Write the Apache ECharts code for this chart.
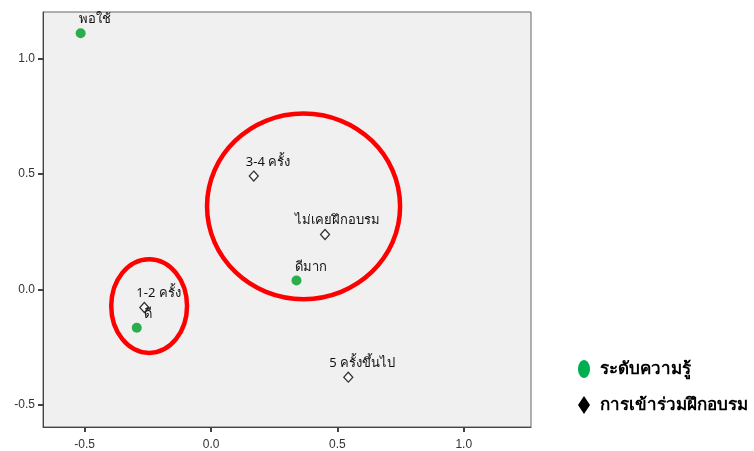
<!DOCTYPE html>
<html><head><meta charset="utf-8">
<script src="https://cdn.jsdelivr.net/npm/echarts@6/dist/echarts.min.js"></script>
<style>html,body{margin:0;padding:0;background:#fff}#c{width:754px;height:451px}</style>
</head><body><div id="c"></div>
<script>
// Data
const knowNames = ['พอใช้', 'ดีมาก', 'ดี'];
const knowX = [-0.516, 0.338, -0.294];
const knowY = [1.11, 0.039, -0.166];
const trainNames = ['3-4 ครั้ง', 'ไม่เคยฝึกอบรม', '1-2 ครั้ง', '5 ครั้งขึ้นไป'];
const trainX = [0.169, 0.451, -0.264, 0.543];
const trainY = [0.491, 0.238, -0.078, -0.38];
const seriesNames = ['ระดับความรู้', 'การเข้าร่วมฝึกอบรม'];
const xTicks = [-0.5, 0.0, 0.5, 1.0];
const yTicks = [-0.5, 0.0, 0.5, 1.0];
// annotation ellipses in data units: [cx, cy, rx, ry]
const rings = [[0.366, 0.36, 0.382, 0.402], [-0.245, -0.072, 0.150, 0.203]];

// label layout (style only)
const labelShift = {'พอใช้': -2, 'ดีมาก': -1, 'ดี': 7, '3-4 ครั้ง': -8, 'ไม่เคยฝึกอบรม': -30, '1-2 ครั้ง': -8, '5 ครั้งขึ้นไป': -19};

function pts(names, xs, ys) {
  return names.map((n, i) => ({
    name: n, value: [xs[i], ys[i]],
    label: {offset: [labelShift[n] || 0, 0]}
  }));
}
const lbl = {show: true, position: 'top', align: 'left', distance: 2, formatter: p => p.name,
  color: '#111', fontSize: 13, fontFamily: 'Noto Sans, sans-serif'};

const chart = echarts.init(document.getElementById('c'), null, {renderer: 'canvas'});
const ax = {
  axisLine: {show: true, onZero: false, lineStyle: {color: '#444', width: 1}},
  axisTick: {show: true, length: 5, lineStyle: {color: '#444', width: 2}},
  axisLabel: {color: '#333', fontSize: 12, fontFamily: 'Liberation Sans, Arial, sans-serif',
    formatter: v => v.toFixed(1)},
  splitLine: {show: false}
};
const ellipseIcon = 'path://M50,0 C77.6,0 100,22.4 100,50 C100,77.6 77.6,100 50,100 C22.4,100 0,77.6 0,50 C0,22.4 22.4,0 50,0 Z';
const diamondIcon = 'path://M50,0 L100,50 L50,100 L0,50 Z';
chart.setOption({
  animation: false,
  grid: {left: 43, top: 12, right: 223, bottom: 23, show: true, backgroundColor: '#f0f0f0',
    borderColor: '#666', borderWidth: 1},
  xAxis: Object.assign({}, ax, {type: 'value', min: -0.665, max: 1.266,
    axisTick: Object.assign({}, ax.axisTick, {customValues: xTicks}),
    axisLabel: Object.assign({}, ax.axisLabel, {customValues: xTicks, margin: 12})}),
  yAxis: Object.assign({}, ax, {type: 'value', min: -0.596, max: 1.202,
    axisTick: Object.assign({}, ax.axisTick, {customValues: yTicks}),
    axisLabel: Object.assign({}, ax.axisLabel, {customValues: yTicks, margin: 8})}),
  legend: {
    orient: 'vertical', left: 573, top: 355, itemGap: 18, itemWidth: 12, itemHeight: 18,
    symbolKeepAspect: false,
    textStyle: {fontSize: 17, fontWeight: 'bold', color: '#000', fontFamily: 'Noto Sans, sans-serif',
      padding: [0, 0, 0, 5]},
    data: [
      {name: seriesNames[0], icon: ellipseIcon, itemStyle: {color: '#00b050', borderWidth: 0}},
      {name: seriesNames[1], icon: diamondIcon, itemStyle: {color: '#000', borderColor: '#000', borderWidth: 0}}
    ]
  },
  series: [
    {name: seriesNames[0], type: 'scatter', symbol: 'circle', symbolSize: 10,
      itemStyle: {color: '#2aae4c', opacity: 1}, label: lbl, data: pts(knowNames, knowX, knowY)},
    {name: seriesNames[1], type: 'scatter', symbol: 'diamond', symbolSize: [9, 10],
      itemStyle: {color: '#fafafa', borderColor: '#333', borderWidth: 1.3, opacity: 1}, label: lbl,
      data: pts(trainNames, trainX, trainY)}
  ]
});
// red annotation rings placed through the axes
const g = rings.map(r => {
  const c = chart.convertToPixel({gridIndex: 0}, [r[0], r[1]]);
  const e = chart.convertToPixel({gridIndex: 0}, [r[0] + r[2], r[1] + r[3]]);
  return {type: 'ellipse', shape: {cx: c[0], cy: c[1], rx: Math.abs(e[0] - c[0]), ry: Math.abs(e[1] - c[1])},
    style: {fill: 'none', stroke: '#ff0000', lineWidth: 4.5}, z: 100};
});
chart.setOption({graphic: g});
</script></body></html>
